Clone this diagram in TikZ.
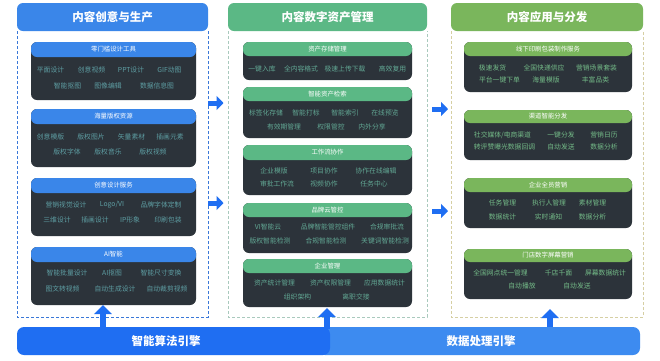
\documentclass[tikz,border=0pt]{standalone}
\usepackage{fontspec}
\setmainfont{Noto Sans CJK SC}
\usetikzlibrary{arrows.meta}
\definecolor{cA}{HTML}{3A86E9}
\definecolor{cB}{HTML}{5BB885}
\definecolor{cC}{HTML}{7AB65C}
\definecolor{dA}{HTML}{3A78D8}
\definecolor{dB}{HTML}{A9C9BD}
\definecolor{dC}{HTML}{D6CFA3}
\definecolor{tA}{HTML}{5E9EA3}
\definecolor{tB}{HTML}{62A894}
\definecolor{tC}{HTML}{74BB88}
\definecolor{bodyc}{HTML}{2C333A}
\definecolor{barA}{HTML}{1F6EF2}
\definecolor{barB}{HTML}{3D8BF0}
\definecolor{arrc}{HTML}{1F6EF2}
\tikzset{
  colhead/.style={rectangle, rounded corners=6pt, inner sep=0pt, outer sep=0pt, text=white, font=\fontsize{11.5}{13}\selectfont\bfseries},
  subbody/.style={rectangle, rounded corners=6pt, fill=bodyc, inner sep=0pt, outer sep=0pt},
  subhead/.style={rectangle, rounded corners=6pt, inner sep=0pt, outer sep=0pt, text=white, font=\fontsize{6.4}{7}\selectfont},
  bt/.style={inner sep=0pt, font=\fontsize{6.8}{8}\selectfont},
  btA/.style={bt, text=tA},
  btB/.style={bt, text=tB},
  btC/.style={bt, text=tC},
  frame/.style={line width=0.9pt, dash pattern=on 3pt off 2pt},
  bar/.style={rectangle, rounded corners=7pt, inner sep=0pt, outer sep=0pt, minimum height=28pt},
  bartext/.style={inner sep=0pt, text=white, font=\fontsize{11.5}{13}\selectfont\bfseries},
  rarr/.style={draw=arrc, line width=5pt, -{Triangle[length=7pt,width=14pt]}},
  uarr/.style={draw=arrc, line width=6.5pt, -{Triangle[length=9pt,width=17pt]}}
}
\newcommand\mksub[8]{%
  \node[subbody, anchor=north, minimum width=#3, minimum height={#6-#4}] (#1b) at (#2,#4) {};
  \node[subhead, fill=#7, anchor=north, minimum width=#3, minimum height={#5-#4}] (#1h) at (#2,#4) {#8};
}
\begin{document}
\begin{tikzpicture}[x=1pt,y=-1pt]
\path[use as bounding box, fill=white] (0,0) rectangle (660,360);

% ---------- column frames ----------
\draw[frame, draw=dA] (17,31) -- (17,317) -- (208,317) -- (208,31);
\draw[frame, draw=dB] (228,31) -- (228,317) -- (427,317) -- (427,31);
\draw[frame, draw=dC] (451,31) -- (451,317) -- (643,317) -- (643,31);

% ---------- column headers ----------
\node[colhead, fill=cA, anchor=north west, minimum width=191, minimum height=28] (hA) at (17,3) {内容创意与生产};
\node[colhead, fill=cB, anchor=north west, minimum width=199, minimum height=28] (hB) at (228,3) {内容数字资产管理};
\node[colhead, fill=cC, anchor=north west, minimum width=192, minimum height=28] (hC) at (451,3) {内容应用与分发};

% ---------- column 1 ----------
\mksub{a1}{113.5}{165}{42}{57}{100}{cA}{零门槛设计工具}
\node[btA] (a1x1) at (50.5,70) {平面设计};
\node[btA] (a1x2) at (91.5,70) {创意视频};
\node[btA] (a1x3) at (131,70) {PPT设计};
\node[btA] (a1x4) at (169.5,70) {GIF动图};
\node[btA] (a1y1) at (67.5,86) {智能抠图};
\node[btA] (a1y2) at (108,86) {图像编辑};
\node[btA] (a1y3) at (157,86) {数据信息图};

\mksub{a2}{113.5}{165}{109}{124}{167}{cA}{海量版权资源}
\node[btA] (a2x1) at (50.5,137) {创意模版};
\node[btA] (a2x2) at (91,137) {版权图片};
\node[btA] (a2x3) at (131.5,137) {矢量素材};
\node[btA] (a2x4) at (170,137) {插画元素};
\node[btA] (a2y1) at (67,152) {版权字体};
\node[btA] (a2y2) at (108,152) {版权音乐};
\node[btA] (a2y3) at (153,152) {版权视频};

\mksub{a3}{113.5}{165}{178}{193}{236}{cA}{创意设计服务}
\node[btA] (a3x1) at (66,205) {营销视觉设计};
\node[btA] (a3x2) at (112,205) {Logo/VI};
\node[btA] (a3x3) at (161,205) {品牌字体定制};
\node[btA] (a3y1) at (57,220) {三维设计};
\node[btA] (a3y2) at (95,220) {插画设计};
\node[btA] (a3y3) at (130,220) {IP形象};
\node[btA] (a3y4) at (168,220) {印刷包装};

\mksub{a4}{113.5}{165}{247}{262}{305}{cA}{AI智能}
\node[btA] (a4x1) at (67,273) {智能批量设计};
\node[btA] (a4x2) at (112,273) {AI抠图};
\node[btA] (a4x3) at (161,273) {智能尺寸变换};
\node[btA] (a4y1) at (62.5,289) {图文转视频};
\node[btA] (a4y2) at (115,289) {自动生成设计};
\node[btA] (a4y3) at (167,289) {自动裁剪视频};

% ---------- column 2 ----------
\mksub{b1}{327.5}{169}{42}{56}{80}{cB}{资产存储管理}
\node[btB] (b1x1) at (262,69) {一键入库};
\node[btB] (b1x2) at (301,69) {全内容格式};
\node[btB] (b1x3) at (345,69) {极速上传下载};
\node[btB] (b1x4) at (392.5,69) {高效复用};

\mksub{b2}{327.5}{169}{87}{101}{138}{cB}{智能资产检索}
\node[btB] (b2x1) at (266,113) {标签化存储};
\node[btB] (b2x2) at (306,113) {智能打标};
\node[btB] (b2x3) at (345,113) {智能索引};
\node[btB] (b2x4) at (385,113) {在线预览};
\node[btB] (b2y1) at (284,127) {有效期管理};
\node[btB] (b2y2) at (331,127) {权限管控};
\node[btB] (b2y3) at (372,127) {内外分享};

\mksub{b3}{327.5}{169}{145}{160}{195}{cB}{工作流协作}
\node[btB] (b3x1) at (274,171) {企业模版};
\node[btB] (b3x2) at (324,171) {项目协作};
\node[btB] (b3x3) at (376,171) {协作在线编辑};
\node[btB] (b3y1) at (277,184) {审批工作流};
\node[btB] (b3y2) at (324,184) {视频协作};
\node[btB] (b3y3) at (374,184) {任务中心};

\mksub{b4}{327.5}{169}{203}{217}{253}{cB}{品牌云管控}
\node[btB] (b4x1) at (268,227) {VI智能云};
\node[btB] (b4x2) at (328,227) {品牌智能管控组件};
\node[btB] (b4x3) at (387,227) {合规审批流};
\node[btB] (b4y1) at (270,241) {版权智能检测};
\node[btB] (b4y2) at (326,241) {合规智能检测};
\node[btB] (b4y3) at (385,241) {关键词智能检测};

\mksub{b5}{327.5}{169}{259}{273}{307}{cB}{企业管理}
\node[btB] (b5x1) at (274.5,283) {资产统计管理};
\node[btB] (b5x2) at (330.5,283) {资产权限管理};
\node[btB] (b5x3) at (384.5,283) {应用数据统计};
\node[btB] (b5y1) at (297.5,297) {组织架构};
\node[btB] (b5y2) at (356,297) {离职交接};

% ---------- column 3 ----------
\mksub{c1}{548}{168}{42}{56}{92}{cC}{线下印刷包装制作服务}
\node[btC] (c1x1) at (492.5,68) {极速发货};
\node[btC] (c1x2) at (544,68) {全国快递供应};
\node[btC] (c1x3) at (596.5,68) {营销场景套装};
\node[btC] (c1y1) at (499.5,80) {平台一键下单};
\node[btC] (c1y2) at (546,80) {海量模版};
\node[btC] (c1y3) at (595.5,80) {丰富品类};

\mksub{c2}{548}{168}{110}{123}{160}{cC}{渠道智能分发}
\node[btC] (c2x1) at (502.5,135) {社交媒体/电商渠道};
\node[btC] (c2x2) at (561,135) {一键分发};
\node[btC] (c2x3) at (604,135) {营销日历};
\node[btC] (c2y1) at (504.5,147) {转评赞曝光数据回调};
\node[btC] (c2y2) at (561,147) {自动发送};
\node[btC] (c2y3) at (604,147) {数据分析};

\mksub{c3}{548}{168}{178}{192}{228}{cC}{企业全员营销}
\node[btC] (c3x1) at (502.5,203) {任务管理};
\node[btC] (c3x2) at (549,203) {执行人管理};
\node[btC] (c3x3) at (592.5,203) {素材管理};
\node[btC] (c3y1) at (502.5,217) {数据统计};
\node[btC] (c3y2) at (548.5,217) {实时通知};
\node[btC] (c3y3) at (592.5,217) {数据分析};

\mksub{c4}{548}{168}{249}{262}{299}{cC}{门店数字屏幕营销}
\node[btC] (c4x1) at (500.5,273) {全国网点统一管理};
\node[btC] (c4x2) at (558.5,273) {千店千面};
\node[btC] (c4x3) at (605.5,273) {屏幕数据统计};
\node[btC] (c4y1) at (522,286) {自动播放};
\node[btC] (c4y2) at (577,286) {自动发送};

% ---------- engine bars ----------
\node[bar, fill=barB, anchor=north west, minimum width=322] (barB) at (318,327) {};
\node[bartext] (barBt) at (481,341) {数据处理引擎};
\node[bar, fill=barA, anchor=north west, minimum width=313] (barA) at (17,327) {};
\node[bartext] (barAt) at (166,341) {智能算法引擎};

% ---------- arrows ----------
\coordinate (r1s) at (208,103); \coordinate (r1e) at (223.5,103);
\coordinate (r2s) at (208,203); \coordinate (r2e) at (223.5,203);
\coordinate (r3s) at (432,109); \coordinate (r3e) at (448,109);
\coordinate (r4s) at (432,211); \coordinate (r4e) at (448,211);
\draw[rarr] (r1s) -- (r1e);
\draw[rarr] (r2s) -- (r2e);
\draw[rarr] (r3s) -- (r3e);
\draw[rarr] (r4s) -- (r4e);

\coordinate (u1e) at (103,305);
\coordinate (u2e) at (327,308);
\coordinate (u3e) at (550,309);
\draw[uarr] (barA.north -| u1e) -- (u1e);
\draw[uarr] ([yshift=-2pt]barA.north -| u2e) -- (u2e);
\draw[uarr] (barB.north -| u3e) -- (u3e);
\end{tikzpicture}
\end{document}
